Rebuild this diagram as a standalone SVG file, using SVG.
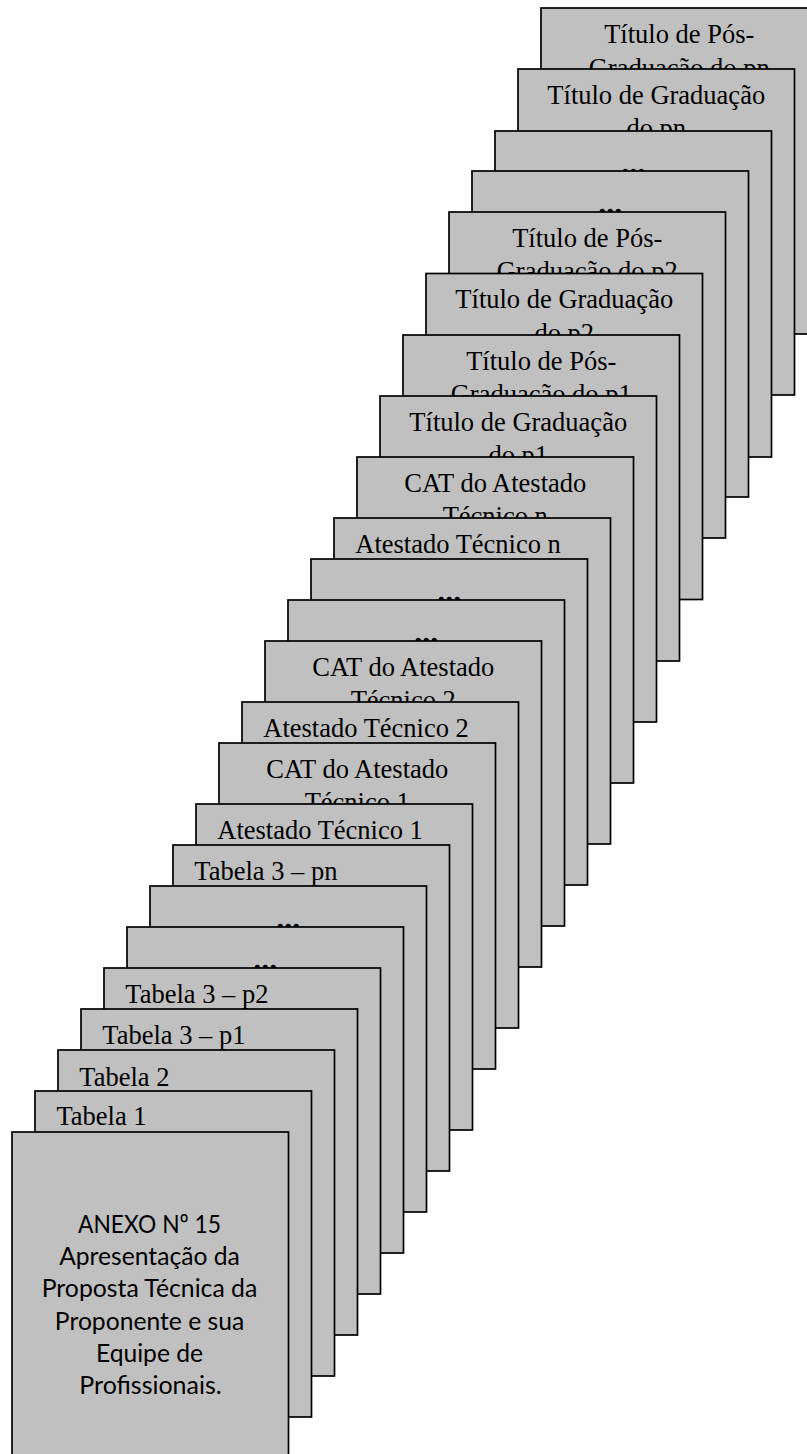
<svg xmlns="http://www.w3.org/2000/svg" width="807" height="1454" viewBox="0 0 807 1454">
<style>
.pg{fill:#c0c0c0;stroke:#000;stroke-width:1.7}
.t{font-family:"Liberation Serif","Times New Roman",serif;font-size:26.5px;fill:#000}
.c{text-anchor:middle}
.d{font-family:"Liberation Serif","Times New Roman",serif;font-size:32px;font-weight:bold;text-anchor:middle;fill:#000}
.a{font-family:Lato,"Open Sans","Liberation Sans",sans-serif;font-size:25.5px;text-anchor:middle;fill:#000}
</style>
<rect width="807" height="1454" fill="#fff"/>
<g id="page23"><rect class="pg" x="541" y="8" width="276.5" height="326"/><text class="t c" x="679.25" y="43">Título de Pós-</text><text class="t c" x="679.25" y="76.5">Graduação do pn</text></g>
<g id="page22"><rect class="pg" x="518" y="69" width="276.5" height="326"/><text class="t c" x="656.25" y="103.5">Título de Graduação</text><text class="t c" x="656.25" y="137">do pn</text></g>
<g id="page21"><rect class="pg" x="495" y="131" width="276.5" height="326"/><text class="d" x="633.25" y="173.5">...</text></g>
<g id="page20"><rect class="pg" x="472" y="171" width="276.5" height="326"/><text class="d" x="610.25" y="213.5">...</text></g>
<g id="page19"><rect class="pg" x="449" y="212" width="276.5" height="326"/><text class="t c" x="587.25" y="246.5">Título de Pós-</text><text class="t c" x="587.25" y="280">Graduação do p2</text></g>
<g id="page18"><rect class="pg" x="426" y="273.5" width="276.5" height="326"/><text class="t c" x="564.25" y="308">Título de Graduação</text><text class="t c" x="564.25" y="341.5">do p2</text></g>
<g id="page17"><rect class="pg" x="403" y="335" width="276.5" height="326"/><text class="t c" x="541.25" y="369.5">Título de Pós-</text><text class="t c" x="541.25" y="403">Graduação do p1</text></g>
<g id="page16"><rect class="pg" x="380" y="396" width="276.5" height="326"/><text class="t c" x="518.25" y="430.5">Título de Graduação</text><text class="t c" x="518.25" y="464">do p1</text></g>
<g id="page15"><rect class="pg" x="357" y="457" width="276.5" height="326"/><text class="t c" x="495.25" y="491.5">CAT do Atestado</text><text class="t c" x="495.25" y="525">Técnico n</text></g>
<g id="page14"><rect class="pg" x="334" y="518" width="276.5" height="326"/><text class="t" x="355.3" y="553">Atestado Técnico n</text></g>
<g id="page13"><rect class="pg" x="311" y="559" width="276.5" height="326"/><text class="d" x="449.25" y="601.5">...</text></g>
<g id="page12"><rect class="pg" x="288" y="600" width="276.5" height="326"/><text class="d" x="426.25" y="642.5">...</text></g>
<g id="page11"><rect class="pg" x="265" y="641" width="276.5" height="326"/><text class="t c" x="403.25" y="675.5">CAT do Atestado</text><text class="t c" x="403.25" y="709">Técnico 2</text></g>
<g id="page10"><rect class="pg" x="242" y="702" width="276.5" height="326"/><text class="t" x="263.3" y="737">Atestado Técnico 2</text></g>
<g id="page9"><rect class="pg" x="219" y="743" width="276.5" height="326"/><text class="t c" x="357.25" y="777.5">CAT do Atestado</text><text class="t c" x="357.25" y="811">Técnico 1</text></g>
<g id="page8"><rect class="pg" x="196" y="804" width="276.5" height="326"/><text class="t" x="217.3" y="839">Atestado Técnico 1</text></g>
<g id="page7"><rect class="pg" x="173" y="845" width="276.5" height="326"/><text class="t" x="194.3" y="880">Tabela 3 – pn</text></g>
<g id="page6"><rect class="pg" x="150" y="886" width="276.5" height="326"/><text class="d" x="288.25" y="928.5">...</text></g>
<g id="page5"><rect class="pg" x="127" y="927" width="276.5" height="326"/><text class="d" x="265.25" y="969.5">...</text></g>
<g id="page4"><rect class="pg" x="104" y="968" width="276.5" height="326"/><text class="t" x="125.3" y="1003">Tabela 3 – p2</text></g>
<g id="page3"><rect class="pg" x="81" y="1009" width="276.5" height="326"/><text class="t" x="102.3" y="1044">Tabela 3 – p1</text></g>
<g id="page2"><rect class="pg" x="58" y="1050" width="276.5" height="326"/><text class="t" x="79.3" y="1085.5">Tabela 2</text></g>
<g id="page1"><rect class="pg" x="35" y="1091" width="276.5" height="326"/><text class="t" x="56.5" y="1125">Tabela 1</text></g>
<g id="page0"><rect class="pg" x="12" y="1132" width="276.5" height="326"/>
<text class="a" x="149.5" y="1233" textLength="143" lengthAdjust="spacingAndGlyphs">ANEXO Nº 15</text>
<text class="a" x="149.5" y="1265.2" textLength="180.7" lengthAdjust="spacingAndGlyphs">Apresentação da</text>
<text class="a" x="149.5" y="1297.4" textLength="215.6" lengthAdjust="spacingAndGlyphs">Proposta Técnica da</text>
<text class="a" x="149.5" y="1329.6" textLength="189.3" lengthAdjust="spacingAndGlyphs">Proponente e sua</text>
<text class="a" x="149.5" y="1361.8" textLength="107" lengthAdjust="spacingAndGlyphs">Equipe de</text>
<text class="a" x="150.5" y="1394" textLength="142.4" lengthAdjust="spacingAndGlyphs">Profissionais.</text>
</g>
<g id="connectors"></g>
</svg>
